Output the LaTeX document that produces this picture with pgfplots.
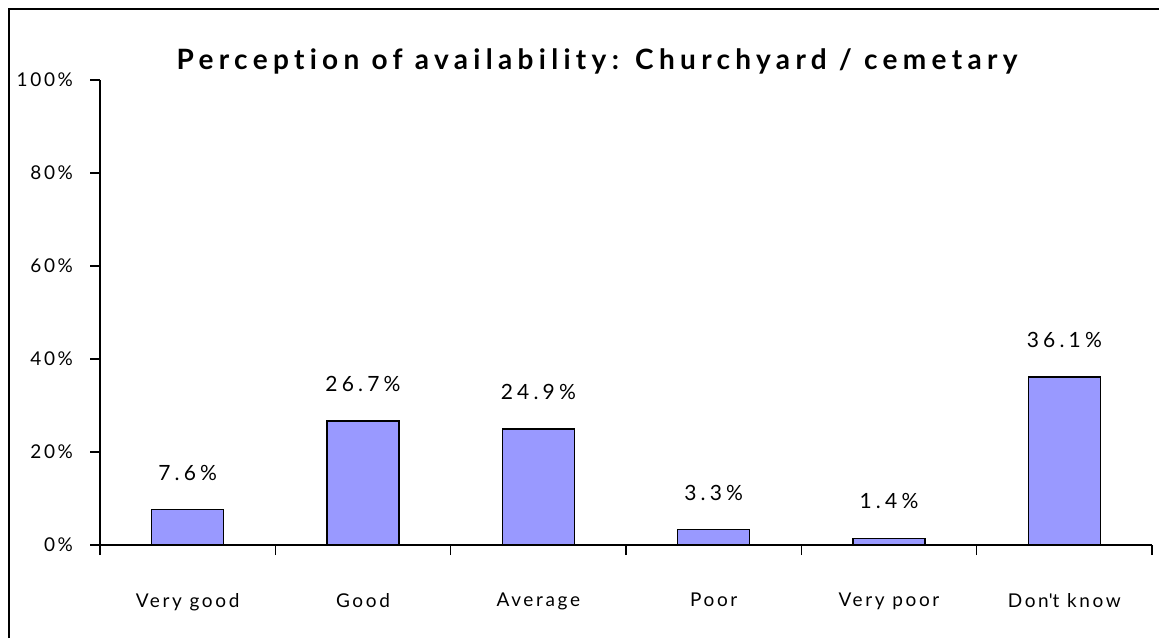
\documentclass[border=0pt]{standalone}
\usepackage{fontspec}
\setmainfont{Lato}[LetterSpace=14,Ligatures={NoCommon}]
\newfontfamily\titlefont{Lato}[LetterSpace=19,Ligatures={NoCommon}]
\newfontfamily\labelfont{Lato}[LetterSpace=20,Ligatures={NoCommon}]
\usepackage{pgfplots}
\pgfplotsset{compat=1.18}
\definecolor{barblue}{RGB}{153,153,255}
\begin{document}
\begin{tikzpicture}
\path[use as bounding box] (0pt,0pt) rectangle (579.5pt,319pt);
\draw[line width=1.1pt] (4.5pt,0pt) -- (4.5pt,314.5pt) -- (579.5pt,314.5pt);
\node[anchor=base, font=\titlefont\fontsize{14}{16}\selectfont\bfseries] at (298.5pt,284pt) {Perception of availability: Churchyard / cemetary};
\begin{axis}[
  at={(50pt,46.5pt)}, anchor=origin,
  scale only axis, width=526pt, height=232.5pt,
  xmin=0.5, xmax=6.5, ymin=0, ymax=100,
  axis x line*=bottom, axis y line*=left,
  axis line style={line width=0.75pt},
  every tick/.style={black, line width=0.75pt},
  tick align=outside, major tick length=5pt,
  ytick={0,20,...,100},
  yticklabel={\pgfmathprintnumber{\tick}\%},
  yticklabel style={xshift=-5pt},
  xtick={0.5,1.5,2.5,3.5,4.5,5.5,6.5},
  xticklabels={},
  extra x ticks={1,2,3,4,5,6},
  extra x tick labels={Very good,Good,Average,Poor,Very poor,{Don\textquotesingle t know}},
  extra x tick style={major tick length=0pt, tick label style={yshift=-20.5pt}},
  tick label style={font=\fontsize{9.5}{11}\selectfont},
  /pgf/number format/assume math mode=true,
  ybar, bar width=36pt,
  nodes near coords={\pgfmathprintnumber[fixed,precision=1,fixed zerofill,assume math mode=true]{\pgfplotspointmeta}\%},
  every node near coord/.append style={font=\labelfont\fontsize{10.5}{12}\selectfont, yshift=11pt, black},
  clip=false,
]
\addplot[fill=barblue, draw=black, line width=0.75pt] coordinates {(1,7.6) (2,26.7) (3,24.9) (4,3.3) (5,1.4) (6,36.1)};
\end{axis}
\end{tikzpicture}
\end{document}
